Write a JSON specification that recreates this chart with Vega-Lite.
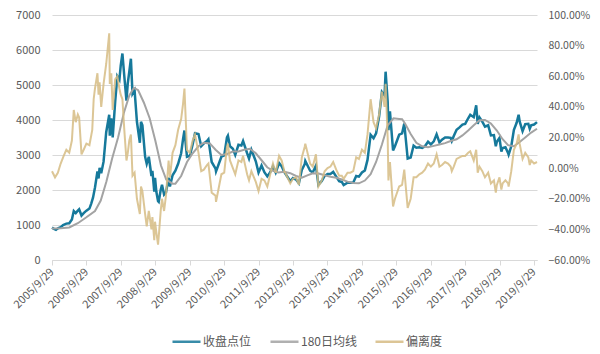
{
  "$schema": "https://vega.github.io/schema/vega-lite/v6.json",
  "width": 485,
  "height": 245,
  "autosize": {"type": "none"},
  "padding": {"left": 52, "top": 15, "right": 63, "bottom": 94},
  "background": "white",
  "config": {
    "view": {"stroke": null},
    "font": "Noto Sans CJK SC",
    "axis": {"labelColor": "#595959", "labelFontSize": 11, "labelFont": "Noto Sans CJK SC", "title": null}
  },
  "datasets": {
    "close": [
      {"d": "2005-09-29", "v": 925}, {"d": "2005-10-20", "v": 890}, {"d": "2005-11-10", "v": 865}, {"d": "2005-12-01", "v": 905}, {"d": "2005-12-30", "v": 940},
      {"d": "2006-01-25", "v": 1000}, {"d": "2006-02-28", "v": 1040}, {"d": "2006-03-31", "v": 1050}, {"d": "2006-04-28", "v": 1160}, {"d": "2006-05-18", "v": 1400},
      {"d": "2006-06-08", "v": 1340}, {"d": "2006-06-30", "v": 1410}, {"d": "2006-07-14", "v": 1450}, {"d": "2006-08-08", "v": 1270}, {"d": "2006-08-31", "v": 1340},
      {"d": "2006-09-29", "v": 1410}, {"d": "2006-10-31", "v": 1470}, {"d": "2006-11-20", "v": 1620}, {"d": "2006-12-08", "v": 1780}, {"d": "2006-12-29", "v": 2070},
      {"d": "2007-01-24", "v": 2530}, {"d": "2007-02-05", "v": 2330}, {"d": "2007-02-16", "v": 2630}, {"d": "2007-03-05", "v": 2480}, {"d": "2007-03-30", "v": 2810},
      {"d": "2007-04-27", "v": 3650}, {"d": "2007-05-29", "v": 4150}, {"d": "2007-06-04", "v": 3550}, {"d": "2007-06-20", "v": 4050}, {"d": "2007-07-05", "v": 3500},
      {"d": "2007-07-31", "v": 4520}, {"d": "2007-08-23", "v": 5250}, {"d": "2007-09-14", "v": 5150}, {"d": "2007-09-28", "v": 5550}, {"d": "2007-10-16", "v": 5900},
      {"d": "2007-11-05", "v": 5250}, {"d": "2007-11-28", "v": 4550}, {"d": "2007-12-12", "v": 5050}, {"d": "2007-12-28", "v": 5380}, {"d": "2008-01-14", "v": 5750},
      {"d": "2008-01-31", "v": 4750}, {"d": "2008-02-22", "v": 4850}, {"d": "2008-03-18", "v": 3950}, {"d": "2008-04-18", "v": 3350}, {"d": "2008-04-30", "v": 3950},
      {"d": "2008-05-15", "v": 3850}, {"d": "2008-06-13", "v": 2950}, {"d": "2008-06-30", "v": 2750}, {"d": "2008-07-22", "v": 2950}, {"d": "2008-08-19", "v": 2400},
      {"d": "2008-08-29", "v": 2550}, {"d": "2008-09-18", "v": 1950}, {"d": "2008-09-26", "v": 2350}, {"d": "2008-10-10", "v": 1950}, {"d": "2008-10-28", "v": 1680},
      {"d": "2008-11-04", "v": 1660}, {"d": "2008-11-25", "v": 2000}, {"d": "2008-12-09", "v": 2150}, {"d": "2008-12-31", "v": 1870},
      {"d": "2009-01-20", "v": 1930}, {"d": "2009-02-17", "v": 2350}, {"d": "2009-03-03", "v": 2100}, {"d": "2009-03-31", "v": 2420}, {"d": "2009-04-30", "v": 2550},
      {"d": "2009-05-29", "v": 2750}, {"d": "2009-06-30", "v": 3050}, {"d": "2009-07-20", "v": 3450}, {"d": "2009-08-04", "v": 3700}, {"d": "2009-08-31", "v": 2950},
      {"d": "2009-09-30", "v": 2980}, {"d": "2009-10-30", "v": 3300}, {"d": "2009-11-24", "v": 3620}, {"d": "2009-12-31", "v": 3600},
      {"d": "2010-01-29", "v": 3250}, {"d": "2010-02-26", "v": 3330}, {"d": "2010-03-31", "v": 3400}, {"d": "2010-04-15", "v": 3450}, {"d": "2010-05-20", "v": 2800},
      {"d": "2010-06-30", "v": 2610}, {"d": "2010-07-05", "v": 2530}, {"d": "2010-08-31", "v": 2950}, {"d": "2010-09-30", "v": 2990}, {"d": "2010-10-29", "v": 3500},
      {"d": "2010-11-08", "v": 3550}, {"d": "2010-11-30", "v": 3250}, {"d": "2010-12-31", "v": 3180},
      {"d": "2011-01-25", "v": 3000}, {"d": "2011-02-28", "v": 3290}, {"d": "2011-03-31", "v": 3270}, {"d": "2011-04-18", "v": 3400}, {"d": "2011-05-31", "v": 3050},
      {"d": "2011-06-20", "v": 2900}, {"d": "2011-07-15", "v": 3150}, {"d": "2011-08-31", "v": 2820}, {"d": "2011-09-29", "v": 2500}, {"d": "2011-10-31", "v": 2700},
      {"d": "2011-11-30", "v": 2510}, {"d": "2011-12-31", "v": 2390},
      {"d": "2012-01-31", "v": 2510}, {"d": "2012-02-29", "v": 2680}, {"d": "2012-03-29", "v": 2500}, {"d": "2012-05-04", "v": 2770}, {"d": "2012-05-31", "v": 2680},
      {"d": "2012-06-29", "v": 2510}, {"d": "2012-07-31", "v": 2380}, {"d": "2012-08-31", "v": 2250}, {"d": "2012-09-28", "v": 2340}, {"d": "2012-10-31", "v": 2300},
      {"d": "2012-11-30", "v": 2190}, {"d": "2012-12-31", "v": 2570},
      {"d": "2013-01-31", "v": 2740}, {"d": "2013-02-06", "v": 2830}, {"d": "2013-03-29", "v": 2550}, {"d": "2013-04-26", "v": 2500}, {"d": "2013-05-30", "v": 2700},
      {"d": "2013-06-25", "v": 2150}, {"d": "2013-07-31", "v": 2260}, {"d": "2013-08-30", "v": 2400}, {"d": "2013-09-30", "v": 2460}, {"d": "2013-10-31", "v": 2460},
      {"d": "2013-11-29", "v": 2520}, {"d": "2013-12-31", "v": 2380},
      {"d": "2014-01-31", "v": 2250}, {"d": "2014-02-28", "v": 2230}, {"d": "2014-03-20", "v": 2140}, {"d": "2014-04-30", "v": 2210}, {"d": "2014-05-30", "v": 2210},
      {"d": "2014-06-30", "v": 2215}, {"d": "2014-07-31", "v": 2400}, {"d": "2014-08-29", "v": 2380}, {"d": "2014-09-30", "v": 2500}, {"d": "2014-10-31", "v": 2560},
      {"d": "2014-11-28", "v": 2860}, {"d": "2014-12-31", "v": 3580},
      {"d": "2015-01-31", "v": 3480}, {"d": "2015-02-27", "v": 3620}, {"d": "2015-03-31", "v": 4100}, {"d": "2015-04-30", "v": 4800}, {"d": "2015-05-28", "v": 4700},
      {"d": "2015-06-08", "v": 5380}, {"d": "2015-06-30", "v": 4520}, {"d": "2015-07-08", "v": 3710}, {"d": "2015-07-24", "v": 4250}, {"d": "2015-08-26", "v": 3130},
      {"d": "2015-09-15", "v": 3250}, {"d": "2015-10-30", "v": 3580}, {"d": "2015-11-30", "v": 3620}, {"d": "2015-12-23", "v": 3900},
      {"d": "2016-01-28", "v": 2900}, {"d": "2016-02-29", "v": 2930}, {"d": "2016-03-31", "v": 3270}, {"d": "2016-04-29", "v": 3210}, {"d": "2016-05-31", "v": 3220},
      {"d": "2016-06-30", "v": 3200}, {"d": "2016-07-29", "v": 3250}, {"d": "2016-08-31", "v": 3380}, {"d": "2016-09-30", "v": 3300}, {"d": "2016-10-31", "v": 3390},
      {"d": "2016-11-30", "v": 3590}, {"d": "2016-12-30", "v": 3360},
      {"d": "2017-01-26", "v": 3440}, {"d": "2017-02-28", "v": 3500}, {"d": "2017-03-31", "v": 3500}, {"d": "2017-04-28", "v": 3490}, {"d": "2017-05-10", "v": 3400},
      {"d": "2017-05-31", "v": 3540}, {"d": "2017-06-30", "v": 3720}, {"d": "2017-07-31", "v": 3790}, {"d": "2017-08-31", "v": 3870}, {"d": "2017-09-29", "v": 3890},
      {"d": "2017-10-31", "v": 4050}, {"d": "2017-11-22", "v": 4150}, {"d": "2017-12-29", "v": 4080},
      {"d": "2018-01-24", "v": 4420}, {"d": "2018-02-09", "v": 3890}, {"d": "2018-02-28", "v": 4070}, {"d": "2018-03-30", "v": 3950}, {"d": "2018-04-27", "v": 3810},
      {"d": "2018-05-31", "v": 3850}, {"d": "2018-06-29", "v": 3560}, {"d": "2018-07-31", "v": 3570}, {"d": "2018-08-20", "v": 3250}, {"d": "2018-08-31", "v": 3380},
      {"d": "2018-09-28", "v": 3490}, {"d": "2018-10-18", "v": 3100}, {"d": "2018-10-31", "v": 3200}, {"d": "2018-11-30", "v": 3220}, {"d": "2018-12-28", "v": 3060},
      {"d": "2019-01-03", "v": 3010}, {"d": "2019-01-31", "v": 3250}, {"d": "2019-02-28", "v": 3720}, {"d": "2019-03-29", "v": 3920}, {"d": "2019-04-19", "v": 4150},
      {"d": "2019-04-30", "v": 3960}, {"d": "2019-05-31", "v": 3680}, {"d": "2019-06-28", "v": 3880}, {"d": "2019-07-31", "v": 3890}, {"d": "2019-08-15", "v": 3750},
      {"d": "2019-08-30", "v": 3850}, {"d": "2019-09-30", "v": 3870}, {"d": "2019-10-31", "v": 3940}
    ],
    "ma": [
      {"d": "2005-09-29", "v": 900}, {"d": "2005-12-30", "v": 905}, {"d": "2006-03-31", "v": 930}, {"d": "2006-06-30", "v": 1050}, {"d": "2006-09-29", "v": 1220},
      {"d": "2006-12-29", "v": 1400}, {"d": "2007-02-28", "v": 1700}, {"d": "2007-04-30", "v": 2250}, {"d": "2007-06-29", "v": 2900}, {"d": "2007-08-31", "v": 3500},
      {"d": "2007-10-31", "v": 4200}, {"d": "2007-12-28", "v": 4700}, {"d": "2008-02-15", "v": 4920}, {"d": "2008-03-31", "v": 4850}, {"d": "2008-05-30", "v": 4500},
      {"d": "2008-07-31", "v": 4050}, {"d": "2008-09-30", "v": 3400}, {"d": "2008-11-28", "v": 2700}, {"d": "2009-01-23", "v": 2300}, {"d": "2009-03-31", "v": 2180},
      {"d": "2009-04-30", "v": 2180}, {"d": "2009-06-30", "v": 2400}, {"d": "2009-08-31", "v": 2800}, {"d": "2009-10-30", "v": 3050}, {"d": "2009-12-31", "v": 3250},
      {"d": "2010-02-26", "v": 3350}, {"d": "2010-04-30", "v": 3330}, {"d": "2010-06-30", "v": 3150}, {"d": "2010-08-31", "v": 3000}, {"d": "2010-10-29", "v": 3030},
      {"d": "2010-12-31", "v": 3100}, {"d": "2011-02-28", "v": 3100}, {"d": "2011-04-29", "v": 3150}, {"d": "2011-06-30", "v": 3180}, {"d": "2011-08-31", "v": 3050},
      {"d": "2011-10-31", "v": 2850}, {"d": "2011-12-30", "v": 2650}, {"d": "2012-02-29", "v": 2550}, {"d": "2012-04-27", "v": 2500}, {"d": "2012-06-29", "v": 2520},
      {"d": "2012-08-31", "v": 2480}, {"d": "2012-10-31", "v": 2400}, {"d": "2012-12-31", "v": 2350}, {"d": "2013-02-28", "v": 2420}, {"d": "2013-04-26", "v": 2480},
      {"d": "2013-06-28", "v": 2470}, {"d": "2013-08-30", "v": 2420}, {"d": "2013-10-31", "v": 2380}, {"d": "2013-12-31", "v": 2350}, {"d": "2014-02-28", "v": 2300},
      {"d": "2014-04-30", "v": 2240}, {"d": "2014-06-30", "v": 2200}, {"d": "2014-08-29", "v": 2190}, {"d": "2014-10-31", "v": 2270}, {"d": "2014-12-31", "v": 2450},
      {"d": "2015-02-27", "v": 2800}, {"d": "2015-04-30", "v": 3300}, {"d": "2015-06-30", "v": 3850}, {"d": "2015-08-31", "v": 4050}, {"d": "2015-10-30", "v": 4030},
      {"d": "2015-11-30", "v": 4020}, {"d": "2015-12-31", "v": 3900}, {"d": "2016-02-29", "v": 3600}, {"d": "2016-04-29", "v": 3350}, {"d": "2016-06-30", "v": 3250},
      {"d": "2016-08-31", "v": 3220}, {"d": "2016-10-31", "v": 3260}, {"d": "2016-12-30", "v": 3300}, {"d": "2017-02-28", "v": 3340}, {"d": "2017-04-28", "v": 3400},
      {"d": "2017-06-30", "v": 3450}, {"d": "2017-08-31", "v": 3560}, {"d": "2017-10-31", "v": 3700}, {"d": "2017-12-29", "v": 3850}, {"d": "2018-02-28", "v": 3990},
      {"d": "2018-04-27", "v": 4000}, {"d": "2018-06-29", "v": 3900}, {"d": "2018-08-31", "v": 3700}, {"d": "2018-10-31", "v": 3450}, {"d": "2018-12-28", "v": 3280},
      {"d": "2019-02-28", "v": 3250}, {"d": "2019-04-30", "v": 3370}, {"d": "2019-06-28", "v": 3500}, {"d": "2019-08-30", "v": 3640}, {"d": "2019-10-31", "v": 3750}
    ],
    "dev": [
      {"d": "2005-09-29", "v": -0.02}, {"d": "2005-10-31", "v": -0.06}, {"d": "2005-11-30", "v": -0.03}, {"d": "2005-12-30", "v": 0.03},
      {"d": "2006-01-31", "v": 0.08}, {"d": "2006-02-28", "v": 0.12}, {"d": "2006-03-31", "v": 0.10}, {"d": "2006-04-28", "v": 0.18}, {"d": "2006-05-18", "v": 0.38},
      {"d": "2006-06-08", "v": 0.30}, {"d": "2006-06-30", "v": 0.35}, {"d": "2006-07-14", "v": 0.33}, {"d": "2006-08-08", "v": 0.09}, {"d": "2006-08-31", "v": 0.12},
      {"d": "2006-09-29", "v": 0.16}, {"d": "2006-10-31", "v": 0.15}, {"d": "2006-11-30", "v": 0.25}, {"d": "2006-12-15", "v": 0.45}, {"d": "2006-12-29", "v": 0.52},
      {"d": "2007-01-24", "v": 0.62}, {"d": "2007-02-05", "v": 0.48}, {"d": "2007-02-16", "v": 0.56}, {"d": "2007-03-05", "v": 0.40}, {"d": "2007-03-30", "v": 0.55},
      {"d": "2007-04-27", "v": 0.68}, {"d": "2007-05-29", "v": 0.88}, {"d": "2007-06-04", "v": 0.55}, {"d": "2007-06-20", "v": 0.62}, {"d": "2007-07-05", "v": 0.38},
      {"d": "2007-07-31", "v": 0.58}, {"d": "2007-08-23", "v": 0.60}, {"d": "2007-09-14", "v": 0.52}, {"d": "2007-09-28", "v": 0.48}, {"d": "2007-10-16", "v": 0.45},
      {"d": "2007-11-05", "v": 0.25}, {"d": "2007-11-28", "v": 0.05}, {"d": "2007-12-12", "v": 0.10}, {"d": "2007-12-28", "v": 0.18}, {"d": "2008-01-14", "v": 0.22},
      {"d": "2008-01-31", "v": -0.05}, {"d": "2008-02-22", "v": -0.03}, {"d": "2008-03-18", "v": -0.20}, {"d": "2008-04-18", "v": -0.30}, {"d": "2008-04-30", "v": -0.12},
      {"d": "2008-05-15", "v": -0.15}, {"d": "2008-06-13", "v": -0.30}, {"d": "2008-06-30", "v": -0.38}, {"d": "2008-07-22", "v": -0.28}, {"d": "2008-08-19", "v": -0.40},
      {"d": "2008-08-29", "v": -0.32}, {"d": "2008-09-18", "v": -0.47}, {"d": "2008-09-26", "v": -0.35}, {"d": "2008-10-10", "v": -0.42}, {"d": "2008-10-28", "v": -0.50},
      {"d": "2008-11-04", "v": -0.45}, {"d": "2008-11-25", "v": -0.28}, {"d": "2008-12-09", "v": -0.20}, {"d": "2008-12-31", "v": -0.28},
      {"d": "2009-01-20", "v": -0.18}, {"d": "2009-02-17", "v": 0.05}, {"d": "2009-03-03", "v": -0.06}, {"d": "2009-03-31", "v": 0.10}, {"d": "2009-04-30", "v": 0.15},
      {"d": "2009-05-29", "v": 0.25}, {"d": "2009-06-30", "v": 0.32}, {"d": "2009-07-20", "v": 0.42}, {"d": "2009-08-04", "v": 0.52}, {"d": "2009-08-31", "v": 0.12},
      {"d": "2009-09-30", "v": 0.10}, {"d": "2009-10-30", "v": 0.18}, {"d": "2009-11-24", "v": 0.22}, {"d": "2009-12-31", "v": 0.10},
      {"d": "2010-01-29", "v": -0.02}, {"d": "2010-02-26", "v": -0.01}, {"d": "2010-03-31", "v": 0.02}, {"d": "2010-04-15", "v": 0.03}, {"d": "2010-05-20", "v": -0.16},
      {"d": "2010-06-30", "v": -0.18}, {"d": "2010-07-05", "v": -0.22}, {"d": "2010-08-31", "v": -0.04}, {"d": "2010-09-30", "v": -0.03}, {"d": "2010-10-29", "v": 0.14},
      {"d": "2010-11-08", "v": 0.16}, {"d": "2010-11-30", "v": 0.05}, {"d": "2010-12-31", "v": 0.00},
      {"d": "2011-01-25", "v": -0.04}, {"d": "2011-02-28", "v": 0.05}, {"d": "2011-03-31", "v": 0.04}, {"d": "2011-04-18", "v": 0.08}, {"d": "2011-05-31", "v": -0.04},
      {"d": "2011-06-20", "v": -0.08}, {"d": "2011-07-15", "v": -0.02}, {"d": "2011-08-31", "v": -0.09}, {"d": "2011-09-29", "v": -0.15}, {"d": "2011-10-31", "v": -0.07},
      {"d": "2011-11-30", "v": -0.08}, {"d": "2011-12-31", "v": -0.12},
      {"d": "2012-01-31", "v": -0.04}, {"d": "2012-02-29", "v": 0.03}, {"d": "2012-03-29", "v": -0.03}, {"d": "2012-05-04", "v": 0.08}, {"d": "2012-05-31", "v": 0.05},
      {"d": "2012-06-29", "v": -0.02}, {"d": "2012-07-31", "v": -0.06}, {"d": "2012-08-31", "v": -0.10}, {"d": "2012-09-28", "v": -0.07}, {"d": "2012-10-31", "v": -0.06},
      {"d": "2012-11-30", "v": -0.11}, {"d": "2012-12-31", "v": 0.07},
      {"d": "2013-01-31", "v": 0.14}, {"d": "2013-02-06", "v": 0.16}, {"d": "2013-03-29", "v": 0.03}, {"d": "2013-04-26", "v": 0.01}, {"d": "2013-05-30", "v": 0.09},
      {"d": "2013-06-25", "v": -0.12}, {"d": "2013-07-31", "v": -0.08}, {"d": "2013-08-30", "v": -0.02}, {"d": "2013-09-30", "v": 0.00}, {"d": "2013-10-31", "v": 0.01},
      {"d": "2013-11-29", "v": 0.04}, {"d": "2013-12-31", "v": -0.01},
      {"d": "2014-01-31", "v": -0.05}, {"d": "2014-02-28", "v": -0.05}, {"d": "2014-03-20", "v": -0.07}, {"d": "2014-04-30", "v": -0.03}, {"d": "2014-05-30", "v": -0.03},
      {"d": "2014-06-30", "v": -0.02}, {"d": "2014-07-31", "v": 0.07}, {"d": "2014-08-29", "v": 0.06}, {"d": "2014-09-30", "v": 0.12}, {"d": "2014-10-31", "v": 0.10},
      {"d": "2014-11-28", "v": 0.22}, {"d": "2014-12-31", "v": 0.45},
      {"d": "2015-01-31", "v": 0.30}, {"d": "2015-02-27", "v": 0.26}, {"d": "2015-03-31", "v": 0.35}, {"d": "2015-04-30", "v": 0.50}, {"d": "2015-05-28", "v": 0.40},
      {"d": "2015-06-08", "v": 0.55}, {"d": "2015-06-30", "v": 0.20}, {"d": "2015-07-08", "v": -0.08}, {"d": "2015-07-24", "v": 0.04}, {"d": "2015-08-26", "v": -0.25},
      {"d": "2015-09-15", "v": -0.20}, {"d": "2015-10-30", "v": -0.12}, {"d": "2015-11-30", "v": -0.11}, {"d": "2015-12-23", "v": -0.01},
      {"d": "2016-01-28", "v": -0.26}, {"d": "2016-02-29", "v": -0.20}, {"d": "2016-03-31", "v": -0.06}, {"d": "2016-04-29", "v": -0.06}, {"d": "2016-05-31", "v": -0.04},
      {"d": "2016-06-30", "v": -0.03}, {"d": "2016-07-29", "v": -0.01}, {"d": "2016-08-31", "v": 0.03}, {"d": "2016-09-30", "v": 0.01}, {"d": "2016-10-31", "v": 0.03},
      {"d": "2016-11-30", "v": 0.09}, {"d": "2016-12-30", "v": 0.01},
      {"d": "2017-01-26", "v": 0.02}, {"d": "2017-02-28", "v": 0.04}, {"d": "2017-03-31", "v": 0.03}, {"d": "2017-04-28", "v": 0.01}, {"d": "2017-05-10", "v": -0.02},
      {"d": "2017-05-31", "v": 0.01}, {"d": "2017-06-30", "v": 0.06}, {"d": "2017-07-31", "v": 0.07}, {"d": "2017-08-31", "v": 0.08}, {"d": "2017-09-29", "v": 0.08},
      {"d": "2017-10-31", "v": 0.10}, {"d": "2017-11-22", "v": 0.11}, {"d": "2017-12-29", "v": 0.05},
      {"d": "2018-01-24", "v": 0.12}, {"d": "2018-02-09", "v": -0.03}, {"d": "2018-02-28", "v": 0.01}, {"d": "2018-03-30", "v": -0.02}, {"d": "2018-04-27", "v": -0.06},
      {"d": "2018-05-31", "v": -0.03}, {"d": "2018-06-29", "v": -0.10}, {"d": "2018-07-31", "v": -0.08}, {"d": "2018-08-20", "v": -0.16}, {"d": "2018-08-31", "v": -0.11},
      {"d": "2018-09-28", "v": -0.06}, {"d": "2018-10-18", "v": -0.14}, {"d": "2018-10-31", "v": -0.10}, {"d": "2018-11-30", "v": -0.08}, {"d": "2018-12-28", "v": -0.10},
      {"d": "2019-01-03", "v": -0.12}, {"d": "2019-01-31", "v": -0.02}, {"d": "2019-02-28", "v": 0.12}, {"d": "2019-03-29", "v": 0.16}, {"d": "2019-04-19", "v": 0.22},
      {"d": "2019-04-30", "v": 0.16}, {"d": "2019-05-31", "v": 0.06}, {"d": "2019-06-28", "v": 0.10}, {"d": "2019-07-31", "v": 0.07}, {"d": "2019-08-15", "v": 0.02},
      {"d": "2019-08-30", "v": 0.05}, {"d": "2019-09-30", "v": 0.03}, {"d": "2019-10-31", "v": 0.04}
    ]
  },
  "encoding": {
    "x": {
      "field": "d",
      "type": "temporal",
      "scale": {"type": "utc", "domain": [{"year": 2005, "month": 9, "date": 29, "utc": true}, {"year": 2019, "month": 10, "date": 31, "utc": true}]},
      "axis": {
        "values": [
          {"year": 2005, "month": 9, "date": 29, "utc": true}, {"year": 2006, "month": 9, "date": 29, "utc": true},
          {"year": 2007, "month": 9, "date": 29, "utc": true}, {"year": 2008, "month": 9, "date": 29, "utc": true},
          {"year": 2009, "month": 9, "date": 29, "utc": true}, {"year": 2010, "month": 9, "date": 29, "utc": true},
          {"year": 2011, "month": 9, "date": 29, "utc": true}, {"year": 2012, "month": 9, "date": 29, "utc": true},
          {"year": 2013, "month": 9, "date": 29, "utc": true}, {"year": 2014, "month": 9, "date": 29, "utc": true},
          {"year": 2015, "month": 9, "date": 29, "utc": true}, {"year": 2016, "month": 9, "date": 29, "utc": true},
          {"year": 2017, "month": 9, "date": 29, "utc": true}, {"year": 2018, "month": 9, "date": 29, "utc": true},
          {"year": 2019, "month": 9, "date": 29, "utc": true}
        ],
        "labelExpr": "utcFormat(datum.value, '%Y/%-m/%-d')",
        "labelAngle": -45,
        "labelAlign": "right",
        "labelBaseline": "middle",
        "labelPadding": 5,
        "labelOverlap": false,
        "labelBound": false,
        "labelFlush": false,
        "grid": false,
        "domainColor": "#d9d9d9",
        "tickColor": "#d9d9d9",
        "tickSize": 5
      }
    }
  },
  "layer": [
    {
      "data": {"name": "close"},
      "mark": {"type": "line", "strokeWidth": 2.5},
      "encoding": {
        "y": {
          "field": "v", "type": "quantitative",
          "scale": {"domain": [0, 7000]},
          "axis": {"orient": "left", "values": [0, 1000, 2000, 3000, 4000, 5000, 6000, 7000], "format": "d", "grid": true, "gridColor": "#d9d9d9", "domain": false, "ticks": false, "labelPadding": 12}
        },
        "color": {
          "datum": "收盘点位",
          "type": "nominal",
          "scale": {"domain": ["收盘点位", "180日均线", "偏离度"], "range": ["#16799b", "#a3a3a3", "#d6bc84"]},
          "legend": {
            "title": null,
            "orient": "none",
            "legendX": 119,
            "legendY": 311,
            "direction": "horizontal",
            "symbolType": "stroke",
            "symbolSize": 784,
            "symbolStrokeWidth": 2.5,
            "labelFont": "Noto Sans CJK SC",
            "labelFontSize": 12,
            "labelColor": "#595959",
            "labelOffset": 1,
            "columnPadding": 13
          }
        }
      }
    },
    {
      "data": {"name": "ma"},
      "mark": {"type": "line", "strokeWidth": 2},
      "encoding": {
        "y": {"field": "v", "type": "quantitative", "scale": {"domain": [0, 7000]}, "axis": null},
        "color": {"datum": "180日均线", "type": "nominal"}
      }
    },
    {
      "data": {"name": "dev"},
      "mark": {"type": "line", "strokeWidth": 2, "opacity": 0.85},
      "encoding": {
        "y": {
          "field": "v", "type": "quantitative",
          "scale": {"domain": [-0.6, 1.0]},
          "axis": {"orient": "right", "values": [-0.6, -0.4, -0.2, 0, 0.2, 0.4, 0.6, 0.8, 1.0], "format": ".2%", "grid": false, "domain": false, "ticks": false, "labelAngle": 0, "labelAlign": {"expr": "'left'"}, "labelPadding": 11, "labelFontSize": 10.5}
        },
        "color": {"datum": "偏离度", "type": "nominal"}
      }
    }
  ],
  "resolve": {"scale": {"y": "independent"}}
}
